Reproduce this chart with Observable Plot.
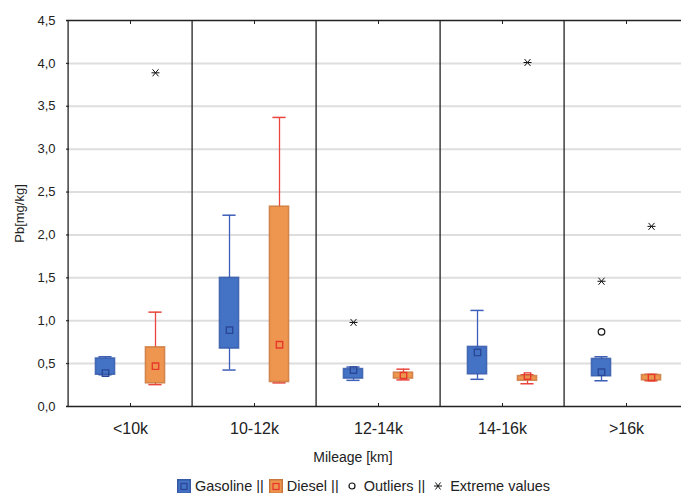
<!DOCTYPE html>
<html>
<head>
<meta charset="utf-8">
<script src="https://cdn.jsdelivr.net/npm/d3@7"></script>
<script src="https://cdn.jsdelivr.net/npm/@observablehq/plot@0.6"></script>
<style>
  html, body { margin: 0; padding: 0; background: #fff; overflow: hidden; }
  #wrap { position: relative; width: 681px; height: 493px; font-family: "Liberation Sans", Arial, sans-serif; color: #222; }
  #xtitle { position: absolute; left: 0; width: 706px; top: 449px; text-align: center; font-size: 14px; }
  #legend { position: absolute; left: 177px; top: 478px; font-size: 14.5px; white-space: nowrap; display: flex; align-items: center; }
  #legend svg { vertical-align: middle; }
  #legend span { margin-right: 5px; }
</style>
</head>
<body>
<div id="wrap">
  <div id="chart"></div>
  <div id="xtitle">Mileage [km]</div>
  <div id="legend"></div>
</div>
<script>
const categories = ["<10k", "10-12k", "12-14k", "14-16k", ">16k"];
const fuels = ["Gasoline", "Diesel"];
const yTicks = [0, 0.5, 1, 1.5, 2, 2.5, 3, 3.5, 4, 4.5];

const gasMin = [0.37, 0.425, 0.305, 0.317, 0.30];
const gasQ1  = [0.37, 0.675, 0.325, 0.375, 0.352];
const gasMed = [0.39, 0.89, 0.425, 0.63, 0.40];
const gasQ3  = [0.56, 1.50, 0.437, 0.695, 0.555];
const gasMax = [0.58, 2.23, 0.46, 1.12, 0.58];

const dieselMin = [0.255, 0.275, 0.31, 0.265, 0.30];
const dieselQ1  = [0.27, 0.285, 0.325, 0.30, 0.305];
const dieselMed = [0.47, 0.72, 0.36, 0.355, 0.337];
const dieselQ3  = [0.69, 2.33, 0.395, 0.355, 0.367];
const dieselMax = [1.10, 3.37, 0.435, 0.37, 0.375];

const outlierCat = [">16k"];
const outlierFuel = ["Gasoline"];
const outlierVal = [0.87];

const extremeCat = ["<10k", "12-14k", "14-16k", ">16k", ">16k"];
const extremeFuel = ["Diesel", "Gasoline", "Diesel", "Gasoline", "Diesel"];
const extremeVal = [3.89, 0.98, 4.01, 1.46, 2.10];

const boxes = [];
categories.forEach((c, i) => {
  boxes.push({cat: c, fuel: "Gasoline", min: gasMin[i], q1: gasQ1[i], med: gasMed[i], q3: gasQ3[i], max: gasMax[i]});
  boxes.push({cat: c, fuel: "Diesel", min: dieselMin[i], q1: dieselQ1[i], med: dieselMed[i], q3: dieselQ3[i], max: dieselMax[i]});
});
const outliers = outlierCat.map((c, i) => ({cat: c, fuel: outlierFuel[i], value: outlierVal[i]}));
const extremes = extremeCat.map((c, i) => ({cat: c, fuel: extremeFuel[i], value: extremeVal[i]}));

const style = {
  Gasoline: {fill: "#4472c4", stroke: "#3558a8", whisker: "#3d5fb8", med: "#2b4797", dx: -25},
  Diesel:   {fill: "#ee964f", stroke: "#c8763a", whisker: "#e9473d", med: "#e8382c", dx: 25}
};

const asterisk = {
  draw(ctx, size) {
    ctx.moveTo(-4, 0); ctx.lineTo(4, 0);
    ctx.moveTo(-3, -3.5); ctx.lineTo(3, 3.5);
    ctx.moveTo(-3, 3.5); ctx.lineTo(3, -3.5);
  }
};

const W = 681, H = 440;
const bw = (690 - 66) / categories.length;
const boxInset = (bw - 20) / 2;
const capInset = (bw - 14) / 2;

const marks = [
  Plot.ruleY(yTicks.filter(d => d > 0 && d < 4.5), {y: d => d, stroke: "#dedede", strokeWidth: 2}),
  Plot.ruleX(categories, {x: d => d, dx: -bw / 2, stroke: "#222", strokeWidth: 1.3}),
  Plot.ruleY([0, 4.5], {y: d => d, stroke: "#222", strokeWidth: 1.3}),
  Plot.axisY({ticks: yTicks, tickSize: -3, tickPadding: 14, tickFormat: d => d.toFixed(1).replace(".", ","), fontSize: 13, label: null}),
  Plot.text(["Pb[mg/kg]"], {frameAnchor: "left", textAnchor: "middle", dx: -47, rotate: -90, fontSize: 13, fill: "#222"}),
  Plot.axisX({tickSize: -3, tickPadding: 19, fontSize: 16, label: null}),
  Plot.axisX({anchor: "top", tickSize: -3, tickFormat: () => "", label: null})
];

for (const f of fuels) {
  const s = style[f];
  const data = boxes.filter(d => d.fuel === f);
  marks.push(
    Plot.ruleX(data, {x: "cat", y1: "min", y2: "max", stroke: s.whisker, strokeWidth: 1.3, dx: s.dx}),
    Plot.tickY(data, {x: "cat", y: "max", stroke: s.whisker, strokeWidth: 1.5, insetLeft: capInset, insetRight: capInset, dx: s.dx}),
    Plot.tickY(data, {x: "cat", y: "min", stroke: s.whisker, strokeWidth: 1.5, insetLeft: capInset, insetRight: capInset, dx: s.dx}),
    Plot.barY(data, {x: "cat", y1: "q1", y2: "q3", fill: s.fill, stroke: s.stroke, strokeWidth: 1.5, strokeOpacity: 0.8, insetLeft: boxInset, insetRight: boxInset, dx: s.dx}),
    Plot.dot(data, {x: "cat", y: "med", symbol: "square", r: 3.6, stroke: s.med, strokeWidth: 1.4, fill: "none", dx: s.dx}),
    Plot.dot(outliers.filter(d => d.fuel === f), {x: "cat", y: "value", symbol: "circle", r: 3.3, stroke: "#111", strokeWidth: 1.2, fill: "none", dx: s.dx}),
    Plot.dot(extremes.filter(d => d.fuel === f), {x: "cat", y: "value", symbol: asterisk, r: 4, stroke: "#111", strokeWidth: 1, fill: "none", dx: s.dx})
  );
}

const chart = Plot.plot({
  width: W,
  height: H,
  marginLeft: 66,
  marginTop: 20,
  marginBottom: 34,
  marginRight: 0,
  style: {fontFamily: "'Liberation Sans', Arial, sans-serif", color: "#222", overflow: "hidden"},
  x: {type: "band", domain: categories, range: [66, 690], padding: 0},
  y: {domain: [0, 4.5]},
  marks
});
document.getElementById("chart").appendChild(chart);

// Legend
const legend = document.getElementById("legend");
function swatch(fill, stroke, inner) {
  return `<svg width="14" height="15" style="margin-right:4px"><rect x="0.75" y="0.75" width="12.5" height="13.5" fill="${fill}" stroke="${stroke}" stroke-width="1.5"/><rect x="4" y="4.5" width="6" height="6" fill="none" stroke="${inner}" stroke-width="1.3"/></svg>`;
}
legend.innerHTML =
  swatch(style.Gasoline.fill, style.Gasoline.stroke, style.Gasoline.med) + `<span>Gasoline ||</span>` +
  swatch(style.Diesel.fill, style.Diesel.stroke, style.Diesel.med) + `<span>Diesel ||</span>` +
  `<svg width="12" height="12" style="margin:0 6px 0 2px"><circle cx="6" cy="6" r="3" fill="none" stroke="#111" stroke-width="1.2"/></svg><span>Outliers ||</span>` +
  `<svg width="12" height="12" style="margin:0 6px 0 2px"><path d="M2,6H10M3.5,2.5L8.5,9.5M3.5,9.5L8.5,2.5" stroke="#111" stroke-width="1"/></svg><span>Extreme values</span>`;
</script>
</body>
</html>
